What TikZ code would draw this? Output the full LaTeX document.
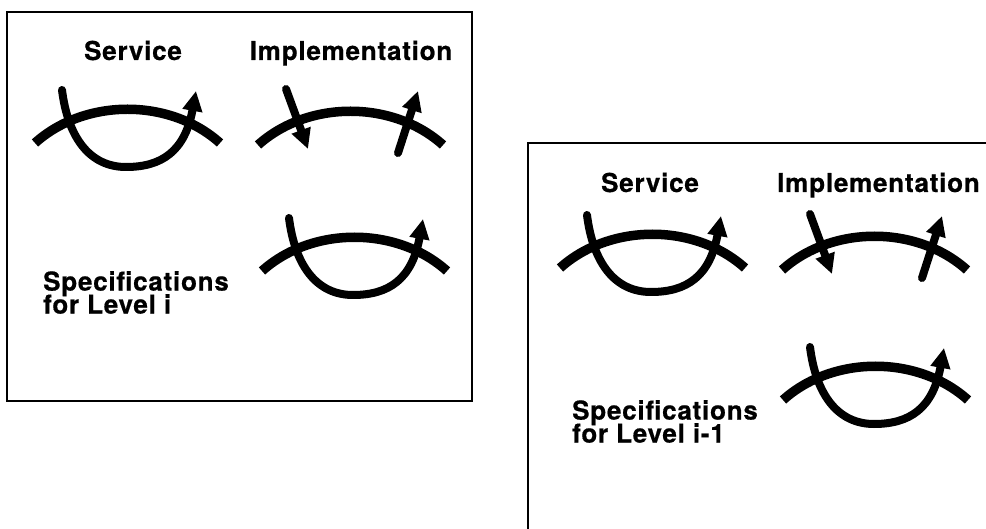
\documentclass[tikz,border=0pt]{standalone}
\usepackage{fontspec}
\setmainfont{TeX Gyre Heros}
\newfontfamily\labelfont{TeX Gyre Heros}[LetterSpace=3, BoldFeatures={FakeBold=0.6}]
\newcommand\labelsetup{\labelfont\fontsize{26}{23}\selectfont\bfseries\lineskiplimit=-30pt\relax}
\usetikzlibrary{arrows.meta}

\tikzset{
  frame/.style={line width=2.4pt, line join=miter},
  label/.style={inner sep=0pt, align=left, font=\labelsetup},
  brush/.style={line width=9.5pt, line cap=butt},
  pen/.style={line width=8pt, line cap=round},
  tip/.style={-{Triangle[length=20pt,width=19pt]}},
  % a service specification: a crossing arc with a loop passing under it
  servicesym/.pic={
    \draw[brush] (0,0) .. controls (50,-45) and (135,-45) .. (185,0);
    \draw[pen, tip] (27,-53) .. controls (33,-5) and (55,24) .. (91,24)
                    .. controls (127,24) and (150,8) .. (161,-52);
  },
  % an implementation: the arc with one arrow coming in and one leaving
  implsym/.pic={
    \draw[brush] (0,0) .. controls (50,-45) and (135,-45) .. (185,0);
    \draw[pen, tip] (28,-56) -- (50,4);
    \draw[pen, tip] (140,8) -- (160,-54);
  },
}

\begin{document}
\begin{tikzpicture}[x=1pt, y=-1pt]
  \useasboundingbox (0,0) rectangle (986,529);

  % level i
  \draw[frame] (7,12) rectangle (472,401);
  \node[label, anchor=base] (svcA) at (133,60) {Service};
  \node[label, anchor=base] (impA) at (351,60) {Implementation};
  \pic (symA) at (35,143) {servicesym};
  \pic (symB) at (258,145) {implsym};
  \pic (symC) at (262,271) {servicesym};
  \node[label, anchor=north west] (specA) at (43,271) {Specifications\\for Level i};

  % level i-1
  \draw[frame] (986,143) -- (528,143) -- (528,529);
  \node[label, anchor=base] (svcB) at (650,192) {Service};
  \node[label, anchor=base west] (impB) at (777,192) {Implementation};
  \pic (symD) at (560,268) {servicesym};
  \pic (symE) at (782,270) {implsym};
  \pic (symF) at (783,400) {servicesym};
  \node[label, anchor=north west] (specB) at (572,400) {Specifications\\for Level i-1};
\end{tikzpicture}
\end{document}
